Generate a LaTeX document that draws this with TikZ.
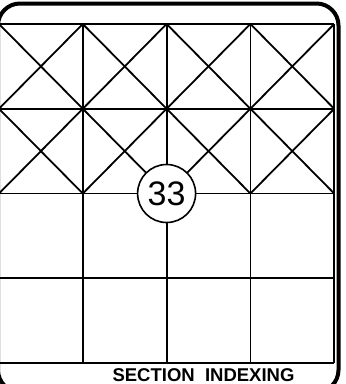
\documentclass[tikz,border=0pt]{standalone}
\usepackage{fontspec}
\setmainfont{Liberation Sans}
\begin{document}
\begin{tikzpicture}[x=1pt,y=-1pt,
  gridline/.style={line width=1.8pt, black},
  frameline/.style={line width=4pt, black, rounded corners=22pt},
  numcircle/.style={circle, draw, line width=1.6pt, fill=white, minimum size=58pt, inner sep=0pt, font=\fontsize{34}{34}\selectfont},
  caption/.style={anchor=base, inner sep=0pt, font=\bfseries\fontsize{18.5}{18.5}\selectfont}]
\useasboundingbox (0,0) rectangle (346,384);
\begin{scope}
\clip (0,0) rectangle (346,384);
% outer frame
\draw[frameline] (-2,3.5) rectangle (338.5,392);
% grid
\foreach \i in {0,...,4} {
  \draw[gridline] ({-1+83.8*\i},24) -- ({-1+83.8*\i},363);
}
\foreach \j in {0,...,4} {
  \draw[gridline] (-1,{24+84.75*\j}) -- (334.2,{24+84.75*\j});
}
% diagonals in top two rows
\foreach \i in {0,...,3} {
  \foreach \j in {0,1} {
    \draw[gridline] ({-1+83.8*\i},{24+84.75*\j}) -- ({-1+83.8*(\i+1)},{24+84.75*(\j+1)});
    \draw[gridline] ({-1+83.8*(\i+1)},{24+84.75*\j}) -- ({-1+83.8*\i},{24+84.75*(\j+1)});
  }
}
\end{scope}
\node[numcircle] (num) at (166.6,193.5) {33};
\node[caption] (cap) at (203.5,381.5) {SECTION\ \ INDEXING};
\end{tikzpicture}
\end{document}
